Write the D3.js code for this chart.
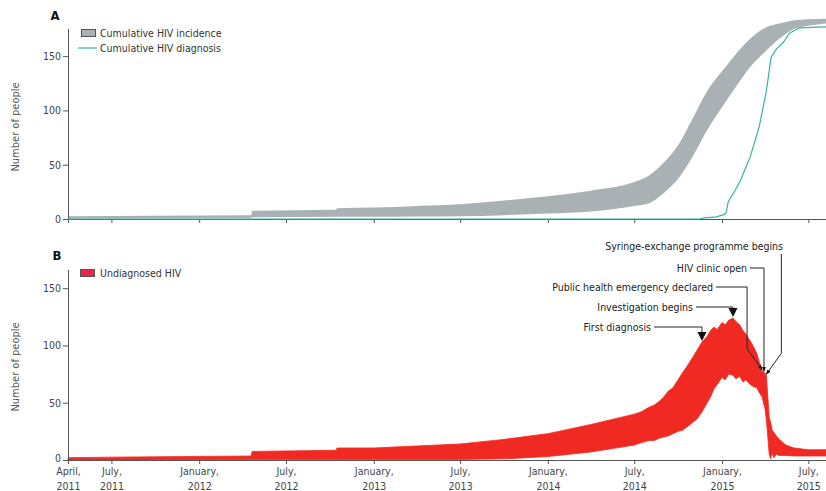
<!DOCTYPE html>
<html>
<head>
<meta charset="utf-8">
<script src="https://cdn.jsdelivr.net/npm/d3@7"></script>
<style>
  html, body { margin: 0; padding: 0; background: #fff; }
  svg { display: block; }
  text { font-family: "Liberation Sans Narrow", "DejaVu Sans Condensed", "Open Sans", sans-serif; fill: #333; }
  .axis path, .axis line { stroke: #555; }
</style>
</head>
<body>
<svg id="chart" width="826" height="491"></svg>
<script>
// ---- Panel A: cumulative HIV incidence range and cumulative diagnoses ----
const incidenceDates = ["2011-04-01","2011-10-01","2012-04-19","2012-04-21","2012-10-14","2012-10-16","2013-01-01","2013-04-01","2013-07-01","2013-10-01","2014-01-01","2014-04-01","2014-07-01","2014-08-01","2014-09-01","2014-10-01","2014-11-01","2014-12-01","2015-01-01","2015-02-01","2015-03-01","2015-04-01","2015-05-01","2015-06-01","2015-07-01","2015-08-07"];
const incidenceLow  = [0.5, 0.8, 1, 1.5, 2, 2, 2, 2.2, 2.5, 3.5, 5, 7, 12, 14.5, 24, 37, 58, 82, 103, 123, 140, 154, 166, 175, 178, 180];
const incidenceHigh = [2.5, 3, 3.5, 7.5, 8.5, 10, 10.5, 12, 13.5, 17, 21, 26, 34, 40, 52, 68, 93, 118, 136, 153, 166, 176, 180, 183, 184, 184.5];

const diagnosisDates  = ["2011-04-01","2014-11-15","2014-11-25","2014-12-20","2015-01-05","2015-01-10","2015-01-14","2015-01-28","2015-02-08","2015-03-01","2015-03-20","2015-04-04","2015-04-14","2015-04-20","2015-04-26","2015-05-10","2015-05-22","2015-06-12","2015-08-07"];
const diagnosisValues = [0, 0, 1, 2, 4, 6, 16, 26, 35, 57, 85, 118, 149, 153, 157, 163, 171, 176, 177];

// ---- Panel B: undiagnosed HIV range ----
const undiagDates = ["2011-04-01","2011-07-01","2012-04-19","2012-04-21","2012-10-14","2012-10-16","2013-01-01","2013-07-01","2013-10-01","2014-01-01","2014-04-01",
  "2014-07-01","2014-07-15","2014-08-01","2014-08-12","2014-08-22","2014-09-01","2014-09-10","2014-09-20","2014-10-01","2014-10-10","2014-10-20",
  "2014-11-01","2014-11-10","2014-11-20","2014-12-01","2014-12-08","2014-12-15","2014-12-22","2015-01-01","2015-01-08","2015-01-15","2015-01-24",
  "2015-01-30","2015-02-07","2015-02-14","2015-02-20","2015-03-01","2015-03-08","2015-03-15","2015-03-20","2015-03-26","2015-04-01","2015-04-04",
  "2015-04-07","2015-04-10","2015-04-13","2015-04-16","2015-04-20","2015-04-25","2015-05-01","2015-05-15","2015-06-01","2015-07-01","2015-08-07"];
const undiagLow  = [0, 0, 0.3, 0.5, 0.5, 0.5, 0.5, 0.5, 1, 3, 7,
  13, 15, 17, 17, 19, 20, 21, 23, 25, 26, 29,
  33, 36, 42, 50, 55, 62, 66, 72, 70, 75, 74,
  71, 73, 68, 70, 66, 64, 63, 59, 55, 45, 35,
  20, 5, 1, 6, 2, 5, 4, 4, 3.5, 3.5, 3.5];
const undiagHigh = [2, 2.5, 3.5, 7.5, 8.5, 10.5, 10.5, 14, 18, 23, 31,
  40, 42, 46, 48, 51, 55, 60, 63, 70, 76, 82,
  90, 96, 103, 108, 113, 116, 114, 120, 118, 122, 124,
  121, 118, 113, 110, 104, 99, 93, 86, 78, 76, 74,
  55, 37, 33, 26, 24, 21, 18, 13, 10.5, 9, 9];

// ---- Key events in the outbreak response ----
const eventDates  = ["2014-11-20","2015-01-24","2015-03-26","2015-03-30","2015-04-04"];
const eventLabels = ["First diagnosis","Investigation begins","Public health emergency declared","HIV clinic open","Syringe-exchange programme begins"];

// ---- Axis ticks ----
const xTickDates  = ["2011-04-01","2011-07-01","2012-01-01","2012-07-01","2013-01-01","2013-07-01","2014-01-01","2014-07-01","2015-01-01","2015-07-01"];
const xTickLabels = [["April,","2011"],["July,","2011"],["January,","2012"],["July,","2012"],["January,","2013"],["July,","2013"],["January,","2014"],["July,","2014"],["January,","2015"],["July,","2015"]];
const yTicks = [0, 50, 100, 150];

const parse = d3.timeParse("%Y-%m-%d");
const svg = d3.select("#chart");
const FS = "10.5px";

const x = d3.scaleTime()
  .domain([parse("2011-04-01"), parse("2015-08-07")])
  .range([68, 826]);

const yA = d3.scaleLinear().domain([0, 175]).range([219, 29]);
const yB = d3.scaleLinear().domain([0, 165]).range([460, 271]);

const incidence = incidenceDates.map((d, i) => ({ date: parse(d), lo: incidenceLow[i], hi: incidenceHigh[i] }));
const diagnosis = diagnosisDates.map((d, i) => ({ date: parse(d), v: diagnosisValues[i] }));
const undiag = undiagDates.map((d, i) => ({ date: parse(d), lo: undiagLow[i], hi: undiagHigh[i] }));

const GRAY = "#aab1b4", TEAL = "#35b5a0", RED = "#f02a22";

function drawAxes(y, top) {
  const gx = svg.append("g").attr("class", "axis")
    .attr("transform", `translate(0,${y(0)})`)
    .call(d3.axisBottom(x).tickValues(xTickDates.map(parse)).tickSize(4).tickSizeOuter(0).tickFormat(""));
  gx.select(".domain").attr("d", `M68,0.5H826`);
  const gy = svg.append("g").attr("class", "axis")
    .attr("transform", `translate(68,0)`)
    .call(d3.axisLeft(y).tickValues(yTicks).tickSize(5).tickPadding(2).tickSizeOuter(0));
  gy.select(".domain").attr("d", `M0.5,${top}V${y(0)}`);
  gy.selectAll("text").style("font-size", FS).style("fill", "#444");
  return { gx, gy };
}

function yTitle(cy) {
  svg.append("text")
    .attr("transform", `translate(19,${cy}) rotate(-90)`)
    .attr("text-anchor", "middle")
    .style("font-size", "11px").style("fill", "#555")
    .text("Number of people");
}

// ================= Panel A =================
svg.append("path")
  .datum(incidence)
  .attr("fill", GRAY)
  .attr("d", d3.area().x(d => x(d.date)).y0(d => yA(d.lo)).y1(d => yA(d.hi)).curve(d3.curveMonotoneX));

drawAxes(yA, 29);

svg.append("path")
  .datum(diagnosis)
  .attr("fill", "none").attr("stroke", TEAL).attr("stroke-width", 1.2)
  .attr("d", d3.line().x(d => x(d.date)).y(d => yA(d.v)));

yTitle(127);
svg.append("text").attr("x", 55).attr("y", 20).attr("text-anchor", "middle")
  .style("font-size", "13px").style("font-weight", "bold").style("fill", "#111").text("A");

// legend A
svg.append("rect").attr("x", 81.5).attr("y", 29.5).attr("width", 14).attr("height", 7)
  .attr("fill", GRAY).attr("stroke", "#555").attr("stroke-width", 1);
svg.append("text").attr("x", 100).attr("y", 37).style("font-size", FS).text("Cumulative HIV incidence");
svg.append("line").attr("x1", 78).attr("x2", 97).attr("y1", 48).attr("y2", 48)
  .attr("stroke", TEAL).attr("stroke-width", 1.2);
svg.append("text").attr("x", 100).attr("y", 52).style("font-size", FS).text("Cumulative HIV diagnosis");

// ================= Panel B =================
svg.append("path")
  .datum(undiag)
  .attr("fill", RED)
  .attr("stroke", RED).attr("stroke-width", 0.8)
  .attr("d", d3.area().x(d => x(d.date)).y0(d => yB(d.lo)).y1(d => yB(d.hi)));

const axB = drawAxes(yB, 270);
// lift the zero label a touch so it clears the first date label
axB.gy.selectAll(".tick").filter(d => d === 0).select("text").attr("dy", "0.1em");
axB.gx.selectAll(".tick").each(function(d, i) {
  const t = d3.select(this).append("text")
    .attr("text-anchor", "middle")
    .style("font-size", FS).style("fill", "#444");
  t.append("tspan").attr("x", 0).attr("y", 15).text(xTickLabels[i][0]);
  t.append("tspan").attr("x", 0).attr("y", 29.5).text(xTickLabels[i][1]);
});

yTitle(367);
svg.append("text").attr("x", 57).attr("y", 260).attr("text-anchor", "middle")
  .style("font-size", "13px").style("font-weight", "bold").style("fill", "#111").text("B");

// legend B
svg.append("rect").attr("x", 80.5).attr("y", 269.5).attr("width", 14).attr("height", 7)
  .attr("fill", "#e8254a").attr("stroke", "#555").attr("stroke-width", 1);
svg.append("text").attr("x", 100).attr("y", 277).style("font-size", FS).text("Undiagnosed HIV");

// ---- event annotations ----
// upper edge of the undiagnosed range at a given date
const bis = d3.bisector(d => d.date).left;
function upperAt(date) {
  const i = Math.min(Math.max(bis(undiag, date), 1), undiag.length - 1);
  const a = undiag[i - 1], b = undiag[i];
  const t = (date - a.date) / (b.date - a.date);
  return a.hi + (b.hi - a.hi) * t;
}

// label rows and leader routing for each event, drawn top to bottom
const labelRow   = [331, 311, 291, 272, 250];
const labelEndX  = [651, 693, 713, 747, 783];
const elbowDx    = [0, 0, -15, 0, 15];
const bigArrow   = [true, true, false, false, false];

svg.append("defs").append("marker")
  .attr("id", "tip").attr("viewBox", "0 0 10 10").attr("refX", 9).attr("refY", 5)
  .attr("markerWidth", 5).attr("markerHeight", 5).attr("orient", "auto")
  .append("path").attr("d", "M0,1L10,5L0,9Z").attr("fill", "#111");

const ann = svg.append("g");
eventDates.forEach((ds, i) => {
  const date = parse(ds);
  const tx = x(date);
  const ty = yB(upperAt(date));
  const ly = labelRow[i] - 4;
  ann.append("text").attr("x", labelEndX[i]).attr("y", labelRow[i])
    .attr("text-anchor", "end").style("font-size", FS).style("fill", "#222")
    .text(eventLabels[i]);
  if (bigArrow[i]) {
    ann.append("path").attr("fill", "none").attr("stroke", "#222").attr("stroke-width", 1)
      .attr("d", `M${labelEndX[i] + 3},${ly}H${tx}V${ty - 9}`);
    ann.append("path").attr("fill", "#111")
      .attr("d", `M${tx - 4.5},${ty - 10}L${tx + 4.5},${ty - 10}L${tx},${ty - 1}Z`);
  } else {
    const ex = tx + elbowDx[i];
    const start = i === 4 ? `M${ex},${labelRow[i] + 4}` : `M${labelEndX[i] + 3},${ly}H${ex}`;
    const bend = elbowDx[i] === 0 ? "" : `V${ty - 22}`;
    ann.append("path").attr("fill", "none").attr("stroke", "#222").attr("stroke-width", 1)
      .attr("marker-end", "url(#tip)")
      .attr("d", `${start}${bend}L${tx},${ty - 1}`);
  }
});
</script>
</body>
</html>
